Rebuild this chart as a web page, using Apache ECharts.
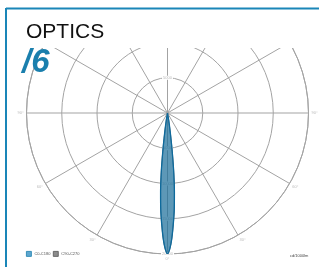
<!DOCTYPE html>
<html>
	<head>
		<meta charset="UTF-8">
		<title></title>
		<style>
			html,body{margin:0;padding:0;background:#fff;}
			#cont_head,#cont_optics{display:block;margin:0;padding:0;}
		</style>
	</head>
	<body>
		<div id="cont_head" style="width:319px;height:48px;"></div>
		<div id="cont_optics" style="width:319px;height:219px;"></div>
	</body>
	<script src="https://cdn.jsdelivr.net/npm/echarts@6/dist/echarts.min.js" type="text/javascript" charset="utf-8"></script>
	<script type="text/javascript">
		// gamma angle (deg), 0 = straight down
		var angles = [-12, -10, -9, -8, -7, -6, -5, -4, -3, -2, -1, 0, 1, 2, 3, 4, 5, 6, 7, 8, 9, 10, 12];
		// intensity cd/1000lm
		var c0c180 = [0, 500, 1500, 3000, 5500, 8500, 11250, 13750, 15750, 17750, 19250, 20000, 19250, 17750, 15750, 13750, 11250, 8500, 5500, 3000, 1500, 500, 0];
		var c90c270 = [0, 500, 1500, 3000, 5500, 8500, 11250, 13750, 15750, 17750, 19250, 20000, 19250, 17750, 15750, 13750, 11250, 8500, 5500, 3000, 1500, 500, 0];
		var seriesNames = ['C0-C180', 'C90-C270'];
		var rMax = 20000, rStep = 5000;

		var toPolar = function (vals) {
			var res = [];
			for (var i = 0; i < vals.length; i++) {
				res.push([vals[i], angles[i]]);
			}
			return res;
		};

		var blue = '#1a86b8';
		var grey = '#a3a3a3';

		// header strip (the polar grid is cut off where this strip ends)
		var headChart = echarts.init(document.getElementById('cont_head'));
		headChart.setOption({
			animation: false,
			graphic: [
				{type: 'line', shape: {x1: 6, y1: 8.5, x2: 319, y2: 8.5}, style: {stroke: blue, lineWidth: 2}},
				{type: 'line', shape: {x1: 6, y1: 8, x2: 6, y2: 48}, style: {stroke: blue, lineWidth: 2}},
				{type: 'text', x: 26, y: 22, style: {text: 'OPTICS', font: '21px "Liberation Sans", Arial, sans-serif', fill: '#111'}}
			]
		});

		var myChart = echarts.init(document.getElementById('cont_optics'));
		var radLabel = function () {
			return {
				fontSize: 4,
				color: '#bbb',
				margin: 0,
				align: 'center',
				verticalAlign: 'middle',
				backgroundColor: '#fff',
				padding: [0, 1],
				formatter: function (v) { return v === 0 ? '' : String(v); }
			};
		};

		option = {
			animation: false,
			polar: [
				{center: [167.5, 65], radius: 141},
				{center: [167.5, 65], radius: 141}
			],
			angleAxis: [{
				polarIndex: 0,
				type: 'value',
				min: -180,
				max: 180,
				interval: 30,
				startAngle: 90,
				clockwise: true,
				axisLine: {lineStyle: {color: grey, width: 1}},
				axisTick: {show: false},
				axisLabel: {
					fontSize: 4,
					color: '#bbb',
					margin: 3,
					formatter: function (v) { return Math.abs(v) + '°'; }
				},
				splitLine: {lineStyle: {color: grey, width: 1}}
			}, {
				polarIndex: 1,
				type: 'value',
				min: 0,
				max: 360,
				startAngle: -90,
				show: false
			}],
			radiusAxis: [{
				polarIndex: 0,
				type: 'value',
				min: 0,
				max: rMax,
				interval: rStep,
				axisLine: {show: false},
				axisTick: {show: false},
				axisLabel: radLabel(),
				splitLine: {lineStyle: {color: grey, width: 1}}
			}, {
				polarIndex: 1,
				type: 'value',
				min: 0,
				max: rMax,
				interval: rStep,
				axisLine: {show: false},
				axisTick: {show: false},
				splitLine: {show: false},
				axisLabel: radLabel()
			}],
			legend: {
				orient: 'vertical',
				left: 21,
				top: 198,
				itemWidth: 5,
				itemHeight: 5,
				itemGap: 2.5,
				icon: 'rect',
				textStyle: {fontSize: 4, color: '#555', padding: [0, 0, 0, -2]},
				data: [
					{name: seriesNames[0], itemStyle: {color: '#5ea6cf', borderColor: '#1a7fad', borderWidth: 0.8}},
					{name: seriesNames[1], itemStyle: {color: '#8c8c8c', borderColor: '#555', borderWidth: 0.8}}
				]
			},
			series: [{
				name: seriesNames[1],
				type: 'line',
				coordinateSystem: 'polar',
				polarIndex: 0,
				smooth: 0.3,
				symbol: 'none',
				z: 1,
				lineStyle: {color: '#777', width: 1},
				itemStyle: {color: '#8c8c8c'},
				data: toPolar(c90c270)
			}, {
				name: seriesNames[0],
				type: 'line',
				coordinateSystem: 'polar',
				polarIndex: 0,
				smooth: 0.3,
				symbol: 'none',
				z: 2,
				lineStyle: {color: '#0f6a9c', width: 1.3},
				itemStyle: {color: '#1a7fad'},
				areaStyle: {color: 'rgba(30,112,155,0.72)', opacity: 1},
				data: toPolar(c0c180)
			}],
			graphic: [
				{type: 'line', z: 110, shape: {x1: 6, y1: 0, x2: 6, y2: 219}, style: {stroke: blue, lineWidth: 2}},
				{type: 'text', z: 110, x: 22, y: -2, style: {text: '/6', font: 'italic bold 33px "Liberation Sans", Arial, sans-serif', fill: '#1a7fad'}},
				{type: 'text', z: 110, x: 290, y: 206, style: {text: 'cd/1000lm', font: '4px "Liberation Sans", Arial, sans-serif', fill: '#444'}}
			]
		};
		myChart.setOption(option);
	</script>
</html>
